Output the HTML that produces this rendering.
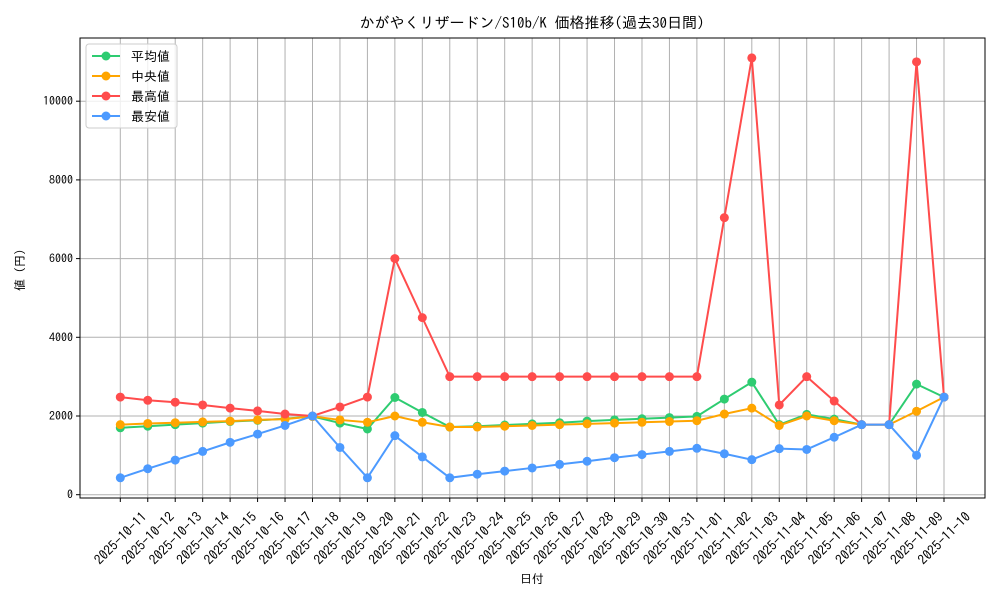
<!DOCTYPE html>
<html><head><meta charset="utf-8"><style>
body{margin:0;background:#fff}
svg{display:block;font-family:"IPAGothic","Noto Sans CJK JP",sans-serif}
</style></head><body>
<svg id="chart" width="1000" height="600" viewBox="0 0 1000 600">
<rect x="0" y="0" width="1000" height="600" fill="#fff"/>
<text x="532" y="28" text-anchor="middle" font-size="15" fill="#000">かがやくリザードン/S10b/K 価格推移(過去30日間)</text>
<g id="grid"></g>
<g id="axes"></g>
<g id="series"></g>
<text x="532" y="583" text-anchor="middle" font-size="12">日付</text>
<text transform="translate(24,270) rotate(-90)" text-anchor="middle" font-size="12">値 (円)</text>
<g id="legend"></g>
</svg>
<script>
const dates=["2025-10-11","2025-10-12","2025-10-13","2025-10-14","2025-10-15","2025-10-16","2025-10-17","2025-10-18","2025-10-19","2025-10-20","2025-10-21","2025-10-22","2025-10-23","2025-10-24","2025-10-25","2025-10-26","2025-10-27","2025-10-28","2025-10-29","2025-10-30","2025-10-31","2025-11-01","2025-11-02","2025-11-03","2025-11-04","2025-11-05","2025-11-06","2025-11-07","2025-11-08","2025-11-09","2025-11-10"];
const avgValues=[1700,1740,1780,1820,1860,1890,1930,1990,1820,1670,2470,2090,1720,1740,1770,1800,1830,1870,1900,1930,1960,1990,2430,2860,1780,2040,1920,1780,1780,2810,2480];
const medianValues=[1780,1810,1830,1850,1870,1900,1920,1990,1900,1840,2000,1840,1720,1720,1740,1760,1780,1800,1820,1840,1860,1880,2050,2200,1760,2000,1880,1780,1780,2120,2480];
const maxValues=[2480,2400,2350,2280,2200,2130,2050,2000,2230,2480,6000,4500,3000,3000,3000,3000,3000,3000,3000,3000,3000,3000,7040,11100,2280,3000,2380,1780,1780,11000,2480];
const minValues=[430,660,880,1100,1330,1540,1760,2000,1200,430,1500,960,430,520,600,680,770,850,940,1020,1100,1180,1040,890,1170,1150,1460,1780,1780,1000,2480];
const yTicks=[0,2000,4000,6000,8000,10000];
const seriesNames=["平均値","中央値","最高値","最安値"];
const seriesColors=["#2ecc71","#ffa500","#ff4c4c","#4c9aff"];
const L=80,R=985,T=38,B=498;
const x=i=>120.3+i*(944-120.3)/(dates.length-1);
const y=v=>494.7+(v/2000)*(416-494.7);
const NS="http://www.w3.org/2000/svg";
function mk(tag,attrs,parent){const e=document.createElementNS(NS,tag);for(const k in attrs)e.setAttribute(k,attrs[k]);parent.appendChild(e);return e;}
const grid=document.getElementById('grid'),axes=document.getElementById('axes'),ser=document.getElementById('series'),leg=document.getElementById('legend');
dates.forEach((d,i)=>{
 const gl=mk('line',{x1:x(i),x2:x(i),y1:T,y2:B,stroke:'#b0b0b0','stroke-width':1},grid);
 
 
 mk('line',{x1:x(i),x2:x(i),y1:B,y2:B+4,stroke:'#000'},axes);
 const t=mk('text',{transform:`translate(${x(i)},${538}) rotate(-45)`,'text-anchor':'middle','font-size':13.5,'dominant-baseline':'central'},axes);
 t.textContent=d;
 
 
});
yTicks.forEach(v=>{
 const gl=mk('line',{x1:L,x2:R,y1:y(v),y2:y(v),stroke:'#b0b0b0','stroke-width':1},grid);
 
 
 mk('line',{x1:L-4,x2:L,y1:y(v),y2:y(v),stroke:'#000'},axes);
 const t=mk('text',{x:L-7,y:y(v)+4,'text-anchor':'end','font-size':12},axes);
 t.textContent=v;
 
 
});
const frame=mk('rect',{x:L,y:T,width:R-L,height:B-T,fill:'none',stroke:'#000','stroke-width':1},axes);


[avgValues,medianValues,maxValues,minValues].forEach((vals,s)=>{
 const g=mk('g',{},ser);
 
 
 const pl=mk('polyline',{points:vals.map((v,i)=>x(i)+','+y(v)).join(' '),fill:'none',stroke:seriesColors[s],'stroke-width':2},g);
 
 
 vals.forEach((v,i)=>{
  const c=mk('circle',{cx:x(i),cy:y(v),r:4.5,fill:seriesColors[s]},g);
  
  
 });
});
const lb=mk('rect',{x:86,y:44,width:91,height:84,rx:3,fill:'#fff','fill-opacity':0.8,stroke:'#ccc'},leg);


seriesNames.forEach((n,s)=>{
 const yy=56+s*20;
 const g=mk('g',{},leg);
 
 
 mk('line',{x1:92,x2:120,y1:yy,y2:yy,stroke:seriesColors[s],'stroke-width':2},g);
 mk('circle',{cx:106,cy:yy,r:4.5,fill:seriesColors[s]},g);
 const t=mk('text',{x:131,y:yy+5,'font-size':13},g);
 t.textContent=n;
});
</script>
</body></html>
